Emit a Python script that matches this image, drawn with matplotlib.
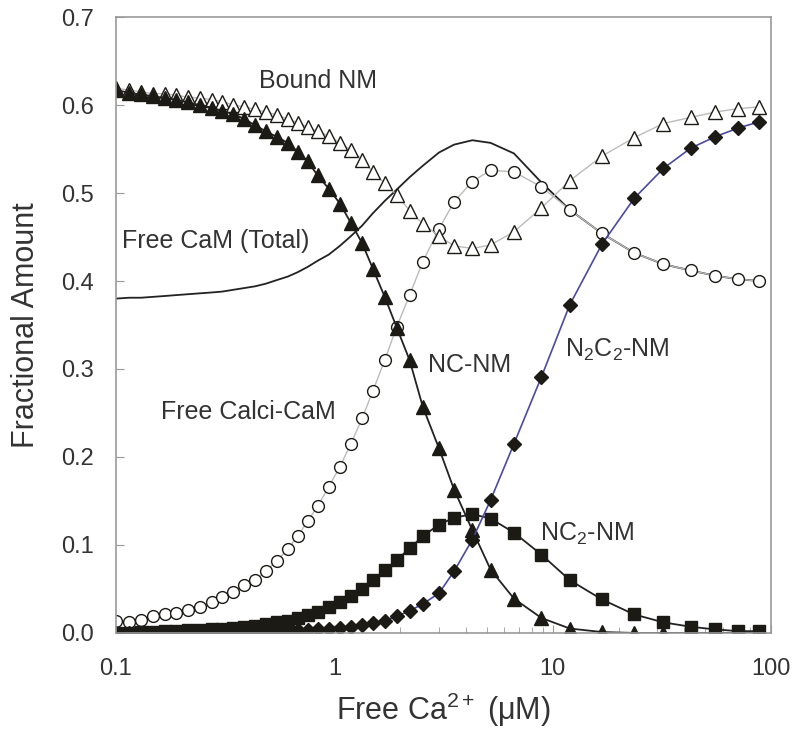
import matplotlib
matplotlib.use("Agg")
import matplotlib.pyplot as plt
from matplotlib.ticker import FixedLocator, FixedFormatter, LogLocator, NullFormatter

plt.rcParams['font.family'] = ['Liberation Sans', 'DejaVu Sans']
plt.rcParams['mathtext.fontset'] = 'custom'
plt.rcParams['mathtext.rm'] = 'Liberation Sans'
plt.rcParams['mathtext.it'] = 'Liberation Sans:italic'

# free Ca2+ (uM) at each computed point
ca = [0.10, 0.115, 0.13, 0.148, 0.168, 0.189, 0.214, 0.242, 0.275, 0.307,
      0.344, 0.387, 0.434, 0.486, 0.544, 0.611, 0.679, 0.754, 0.838, 0.942,
      1.06, 1.19, 1.34, 1.50, 1.70, 1.93, 2.21, 2.54, 3.01, 3.53,
      4.28, 5.19, 6.64, 8.87, 11.96, 16.8, 23.6, 32.1, 42.8, 55.4,
      70.8, 88.3]

bound_nm = [0.619, 0.617, 0.615, 0.613, 0.613, 0.611, 0.609, 0.608, 0.606, 0.604,
            0.600, 0.598, 0.595, 0.592, 0.589, 0.584, 0.580, 0.575, 0.570, 0.565,
            0.557, 0.549, 0.538, 0.524, 0.511, 0.498, 0.480, 0.465, 0.451, 0.440,
            0.437, 0.441, 0.456, 0.483, 0.514, 0.542, 0.563, 0.579, 0.586, 0.592,
            0.596, 0.598]

nc_nm = [0.617, 0.614, 0.612, 0.610, 0.608, 0.606, 0.603, 0.600, 0.597, 0.593,
         0.590, 0.584, 0.577, 0.570, 0.564, 0.557, 0.547, 0.536, 0.520, 0.505,
         0.488, 0.466, 0.443, 0.414, 0.382, 0.347, 0.310, 0.257, 0.210, 0.163,
         0.117, 0.072, 0.039, 0.017, 0.005, 0.001, 0.0, 0.0, 0.0, 0.0,
         0.0, 0.0]

free_calci_cam = [0.013, 0.012, 0.015, 0.019, 0.021, 0.023, 0.026, 0.030, 0.035, 0.041,
                  0.046, 0.055, 0.060, 0.070, 0.082, 0.095, 0.110, 0.127, 0.144, 0.166,
                  0.189, 0.215, 0.244, 0.275, 0.310, 0.348, 0.384, 0.422, 0.459, 0.490,
                  0.513, 0.526, 0.524, 0.507, 0.481, 0.454, 0.432, 0.419, 0.412, 0.406,
                  0.402, 0.400]

free_cam_total = [0.380, 0.381, 0.381, 0.382, 0.383, 0.384, 0.385, 0.386, 0.387, 0.388,
                  0.390, 0.392, 0.394, 0.397, 0.401, 0.405, 0.410, 0.416, 0.423, 0.430,
                  0.440, 0.451, 0.463, 0.477, 0.491, 0.504, 0.518, 0.531, 0.546, 0.555,
                  0.560, 0.557, 0.545, 0.512, 0.481, 0.454, 0.432, 0.419, 0.412, 0.406,
                  0.402, 0.400]

nc2_nm = [0.0, 0.0, 0.001, 0.001, 0.002, 0.002, 0.003, 0.003, 0.004, 0.005,
          0.006, 0.007, 0.008, 0.010, 0.012, 0.014, 0.017, 0.020, 0.024, 0.029,
          0.035, 0.042, 0.050, 0.060, 0.071, 0.083, 0.096, 0.110, 0.123, 0.131,
          0.135, 0.130, 0.114, 0.089, 0.060, 0.038, 0.021, 0.012, 0.007, 0.004,
          0.002, 0.002]

n2c2_nm = [0.0, 0.0, 0.0, 0.0, 0.0, 0.0, 0.0, 0.0, 0.001, 0.001,
           0.001, 0.001, 0.001, 0.002, 0.002, 0.002, 0.003, 0.003, 0.004, 0.005,
           0.006, 0.007, 0.009, 0.011, 0.014, 0.019, 0.025, 0.033, 0.045, 0.070,
           0.106, 0.151, 0.215, 0.291, 0.373, 0.442, 0.494, 0.528, 0.551, 0.564,
           0.574, 0.581]

x_ticks = [0.1, 1, 10, 100]
x_ticklabels = ["0.1", "1", "10", "100"]
y_ticks = [0.0, 0.1, 0.2, 0.3, 0.4, 0.5, 0.6, 0.7]

mk = '#1c1a14'
fig = plt.figure(figsize=(8, 7.42), dpi=100)
ax = fig.add_axes([0.145, 0.147, 0.819, 0.830])

ax.plot(ca, free_cam_total, color='#222222', linewidth=1.3)
ax.plot(ca, free_calci_cam, color='#bbbbbb', linewidth=1.0, marker='o', markersize=8.5,
        markerfacecolor='white', markeredgecolor=mk, markeredgewidth=1.0)
ax.plot(ca, bound_nm, color='#bbbbbb', linewidth=1.0, marker='^', markersize=9.5,
        markerfacecolor='white', markeredgecolor=mk, markeredgewidth=1.0)
ax.plot(ca, nc_nm, color='#222222', linewidth=1.3, marker='^', markersize=9.5,
        markerfacecolor=mk, markeredgecolor=mk)
ax.plot(ca, nc2_nm, color='#222222', linewidth=1.3, marker='s', markersize=8,
        markerfacecolor=mk, markeredgecolor=mk)
ax.plot(ca, n2c2_nm, color='#4a4aa0', linewidth=1.2, marker='D', markersize=7,
        markerfacecolor=mk, markeredgecolor=mk)

txt = dict(fontsize=18, color='#333333', va='center')
ax.text(0.453, 0.627, "Bound NM", **txt)
ax.text(0.1065, 0.445, "Free CaM (Total)", **txt)
ax.text(0.161, 0.2515, "Free Calci-CaM", **txt)
ax.text(2.67, 0.305, "NC-NM", **txt)
ax.text(8.72, 0.113, "NC$_\\mathregular{2}$-NM", **txt)
ax.text(11.35, 0.322, "N$_\\mathregular{2}$C$_\\mathregular{2}$-NM", **txt)

ax.set_xscale('log')
ax.set_xlim(0.1, 100)
ax.set_ylim(0, 0.7)
ax.xaxis.set_major_locator(FixedLocator(x_ticks))
ax.xaxis.set_major_formatter(FixedFormatter(x_ticklabels))
ax.xaxis.set_minor_locator(LogLocator(base=10, subs=range(2, 10)))
ax.xaxis.set_minor_formatter(NullFormatter())
ax.set_yticks(y_ticks)
ax.set_yticklabels([f"{v:.1f}" for v in y_ticks])

for s in ax.spines.values():
    s.set_color('#999999')
    s.set_linewidth(1.2)
ax.tick_params(axis='both', which='both', direction='in', color='#999999',
               labelcolor='#333333', labelsize=17)
ax.tick_params(axis='x', which='major', length=6, pad=18)
ax.tick_params(axis='x', which='minor', length=4)
ax.tick_params(axis='y', which='major', length=6, pad=16)

ax.set_xlabel("Free Ca$^{\\mathregular{2+}}$ (\u03bcM)", fontsize=22, color='#333333', labelpad=8)
ax.set_ylabel("Fractional Amount", fontsize=22, color='#333333', labelpad=14)

fig.savefig("out.png", dpi=100)
